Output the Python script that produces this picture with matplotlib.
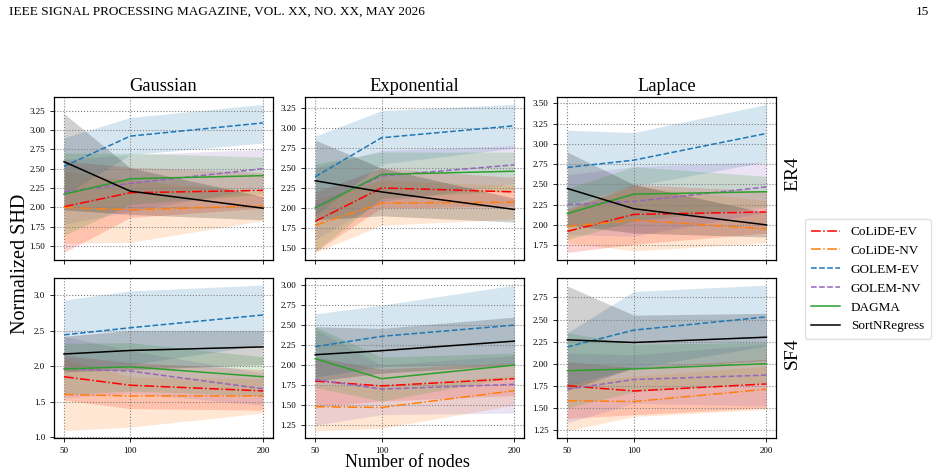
import numpy as np
import matplotlib
matplotlib.use("Agg")
import matplotlib.pyplot as plt
from matplotlib.ticker import MultipleLocator

plt.rcParams["font.family"] = ["Liberation Serif", "DejaVu Serif"]

# x values and panel labels
nodes = [50, 100, 200]
noise_types = ["Gaussian", "Exponential", "Laplace"]
graph_types = ["ER4", "SF4"]
ytick_steps = [0.25, 0.25, 0.25, 0.5, 0.25, 0.25]

# Panel order: ER4-Gaussian, ER4-Exponential, ER4-Laplace, SF4-Gaussian, SF4-Exponential, SF4-Laplace
colide_ev_mean = [[2.01, 2.19, 2.22], [1.83, 2.25, 2.20], [1.92, 2.13, 2.16],
                  [1.85, 1.73, 1.65], [1.80, 1.74, 1.83], [1.75, 1.69, 1.77]]
colide_ev_lo = [[1.42, 1.87, 1.99], [1.45, 2.00, 2.02], [1.66, 1.76, 1.90],
                [1.52, 1.40, 1.38], [1.48, 1.55, 1.62], [1.38, 1.42, 1.50]]
colide_ev_hi = [[2.60, 2.52, 2.45], [2.20, 2.50, 2.38], [2.20, 2.50, 2.42],
                [2.15, 2.05, 1.95], [2.10, 1.95, 2.03], [2.02, 1.96, 2.05]]

colide_nv_mean = [[2.00, 1.97, 2.02], [1.78, 2.06, 2.07], [1.98, 2.06, 1.95],
                  [1.60, 1.58, 1.58], [1.48, 1.47, 1.68], [1.58, 1.57, 1.71]]
colide_nv_lo = [[1.54, 1.55, 1.83], [1.44, 1.78, 1.86], [1.78, 1.68, 1.78],
                [1.09, 1.14, 1.34], [1.18, 1.21, 1.50], [1.24, 1.40, 1.48]]
colide_nv_hi = [[2.47, 2.35, 2.20], [2.10, 2.35, 2.28], [2.18, 2.48, 2.30],
                [2.10, 1.85, 1.82], [1.75, 1.75, 1.87], [1.78, 1.86, 1.97]]

golem_ev_mean = [[2.53, 2.92, 3.09], [2.39, 2.88, 3.03], [2.71, 2.80, 3.13],
                 [2.44, 2.54, 2.72], [2.23, 2.36, 2.50], [2.19, 2.38, 2.53]]
golem_ev_lo = [[2.16, 2.68, 2.83], [1.90, 2.55, 2.75], [2.25, 2.48, 2.78],
               [1.98, 2.02, 2.30], [1.85, 1.98, 2.02], [1.75, 1.95, 2.20]]
golem_ev_hi = [[2.90, 3.16, 3.33], [2.90, 3.22, 3.30], [3.17, 3.14, 3.49],
               [2.93, 3.06, 3.14], [2.64, 2.75, 3.00], [2.35, 2.82, 2.89]]

golem_nv_mean = [[2.20, 2.31, 2.50], [2.02, 2.40, 2.54], [2.25, 2.29, 2.47],
                 [1.96, 1.93, 1.68], [1.82, 1.70, 1.76], [1.71, 1.82, 1.87]]
golem_nv_lo = [[1.78, 1.95, 2.25], [1.60, 2.08, 2.30], [1.88, 1.86, 2.16],
               [1.55, 1.62, 1.45], [1.25, 1.38, 1.40], [1.33, 1.55, 1.52]]
golem_nv_hi = [[2.62, 2.68, 2.75], [2.50, 2.72, 2.78], [2.62, 2.72, 2.78],
               [2.42, 2.22, 1.90], [2.45, 2.00, 2.12], [2.12, 2.10, 2.22]]

dagma_mean = [[2.17, 2.37, 2.41], [2.00, 2.42, 2.46], [2.14, 2.38, 2.41],
              [1.96, 1.99, 1.85], [2.08, 1.83, 2.00], [1.92, 1.94, 2.00]]
dagma_lo = [[1.64, 2.04, 2.17], [1.45, 2.12, 2.22], [1.82, 2.05, 2.22],
            [1.60, 1.65, 1.58], [1.72, 1.55, 1.85], [1.50, 1.68, 1.78]]
dagma_hi = [[2.70, 2.70, 2.65], [2.55, 2.70, 2.70], [2.45, 2.72, 2.60],
            [2.32, 2.33, 2.13], [2.48, 2.10, 2.15], [2.35, 2.22, 2.24]]

sortn_mean = [[2.59, 2.21, 1.99], [2.34, 2.20, 1.98], [2.45, 2.20, 2.00],
              [2.17, 2.22, 2.27], [2.13, 2.18, 2.30], [2.27, 2.24, 2.30]]
sortn_lo = [[1.97, 1.91, 1.84], [1.85, 1.90, 1.82], [2.00, 1.90, 1.85],
            [1.92, 1.95, 2.02], [1.80, 1.90, 2.00], [1.70, 1.95, 2.03]]
sortn_hi = [[3.21, 2.51, 2.14], [2.85, 2.50, 2.12], [2.90, 2.50, 2.15],
            [2.42, 2.50, 2.50], [2.48, 2.46, 2.60], [2.88, 2.55, 2.57]]

methods = [
    ("CoLiDE-EV", colide_ev_mean, colide_ev_lo, colide_ev_hi, "red", "-."),
    ("CoLiDE-NV", colide_nv_mean, colide_nv_lo, colide_nv_hi, "tab:orange", "-."),
    ("GOLEM-EV", golem_ev_mean, golem_ev_lo, golem_ev_hi, "tab:blue", "--"),
    ("GOLEM-NV", golem_nv_mean, golem_nv_lo, golem_nv_hi, "tab:purple", "--"),
    ("DAGMA", dagma_mean, dagma_lo, dagma_hi, "tab:green", "-"),
    ("SortNRegress", sortn_mean, sortn_lo, sortn_hi, "black", "-"),
]

fig = plt.figure(figsize=(9.48, 4.75), dpi=100)

lefts = [0.057, 0.322, 0.588]
bottoms = [0.453, 0.078]
width = 0.231
heights = [0.343, 0.337]

axes = []
for r in range(2):
    for c in range(3):
        ax = fig.add_axes([lefts[c], bottoms[r], width, heights[r]])
        k = r * 3 + c
        for name, mean, lo, hi, color, ls in methods:
            ax.fill_between(nodes, lo[k], hi[k], color=color, alpha=0.18, linewidth=0)
            ax.plot(nodes, mean[k], color=color, linestyle=ls, linewidth=1.1, label=name)
        ax.set_xticks(nodes)
        ax.yaxis.set_major_locator(MultipleLocator(ytick_steps[k]))
        if r == 0:
            ax.set_xticklabels([])
            ax.set_title(noise_types[c], fontsize=13.3, pad=4)
        ax.tick_params(labelsize=6.5, length=3, width=0.6)
        ax.grid(True, linestyle=":", color="gray", linewidth=0.8)
        for s in ax.spines.values():
            s.set_linewidth(0.9)
        if c == 2:
            ax.text(1.035, 0.53, graph_types[r], transform=ax.transAxes, rotation=90,
                    va="center", ha="left", fontsize=14)
        axes.append(ax)

fig.text(0.022, 0.444, "Normalized SHD", rotation=90, va="center", ha="center", fontsize=14.5)
fig.text(0.43, 0.027, "Number of nodes", va="center", ha="center", fontsize=13)

handles, labels = axes[0].get_legend_handles_labels()
fig.legend(handles, labels, loc="upper left", bbox_to_anchor=(0.842, 0.552),
           fontsize=9.5, handlelength=2.2, frameon=True, edgecolor="0.85", borderpad=0.5,
           labelspacing=0.5)

# page header
fig.text(0.01, 0.975, "IEEE SIGNAL PROCESSING MAGAZINE, VOL. XX, NO. XX, MAY 2026",
         va="center", ha="left", fontsize=9.5)
fig.text(0.98, 0.975, "15", va="center", ha="right", fontsize=9.5)

fig.savefig("out.png", dpi=100)
